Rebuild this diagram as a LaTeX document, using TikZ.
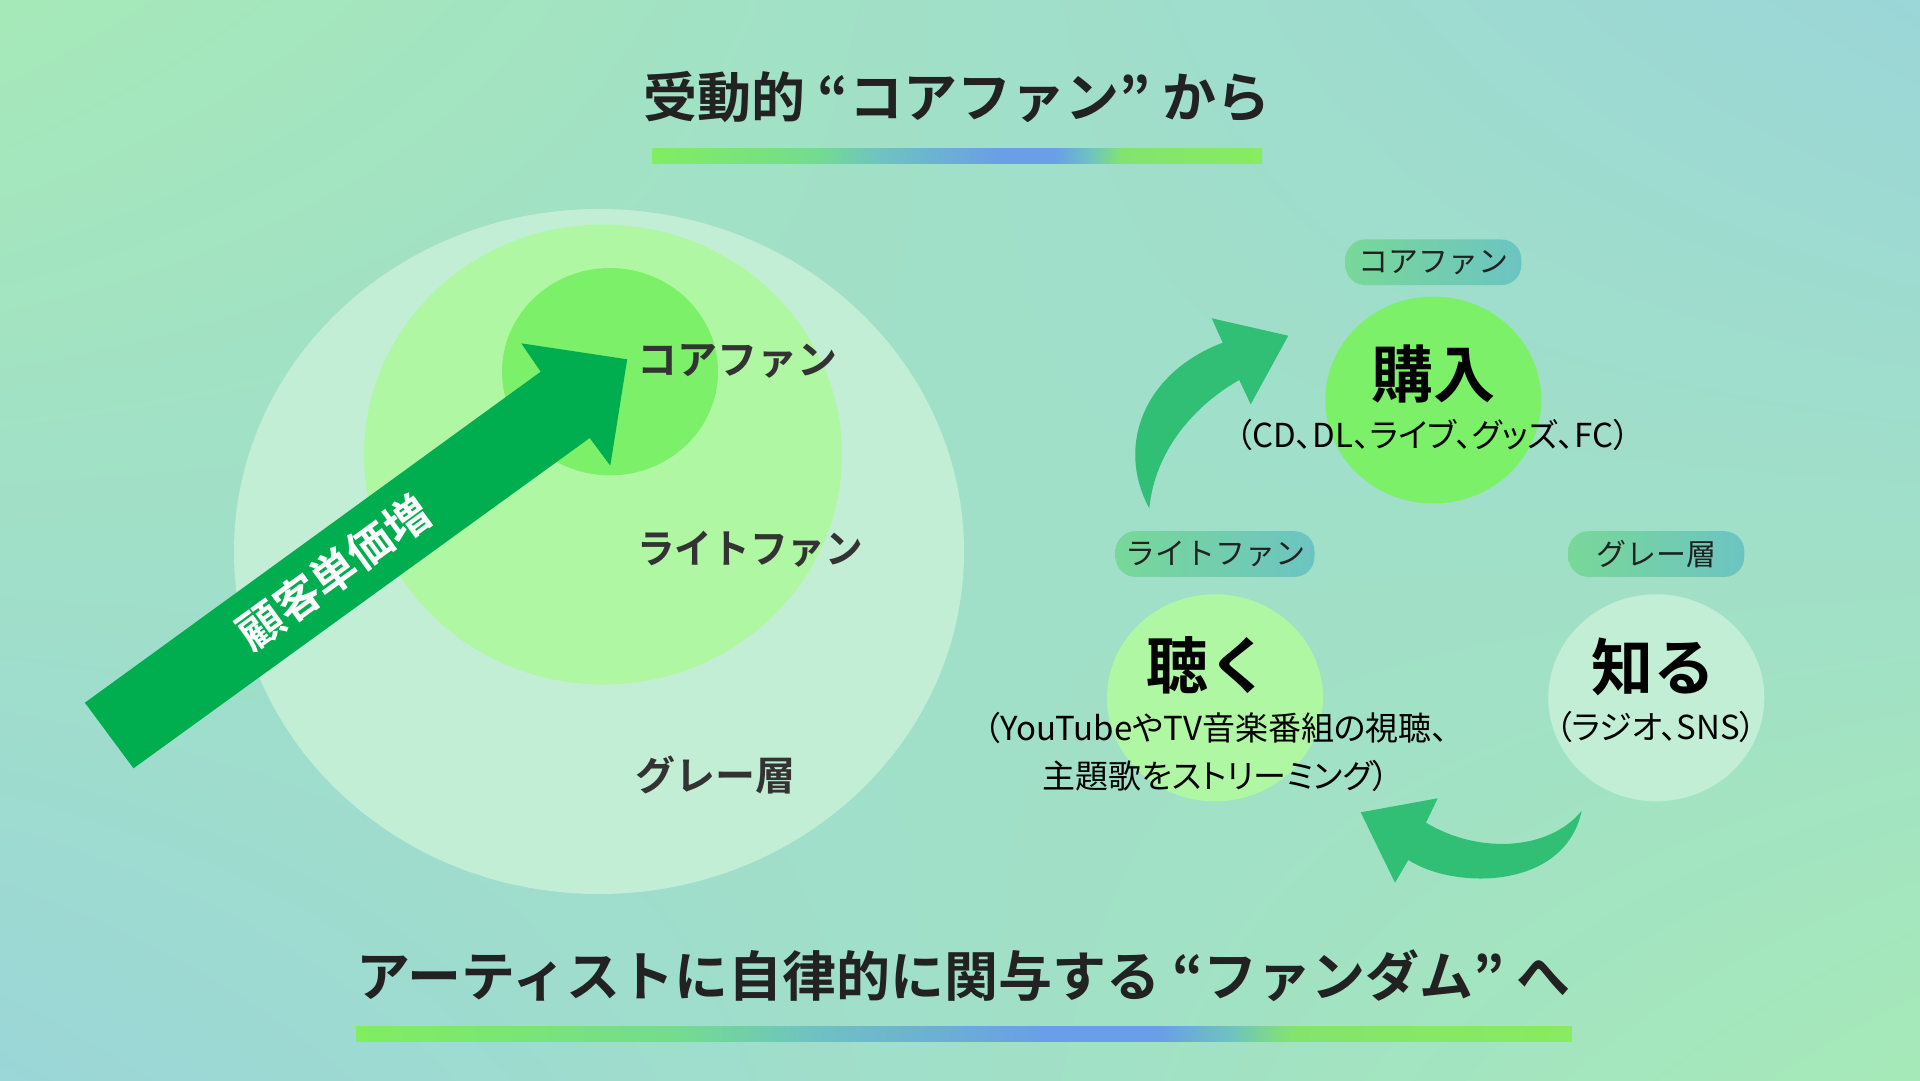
\documentclass[tikz,border=0pt]{standalone}
\usepackage{fontspec}
\setmainfont{Noto Sans CJK JP}[BoldFont={Noto Sans CJK JP Bold}]
\newfontfamily\detailfont{Noto Sans CJK JP}[RawFeature=+palt]
\usetikzlibrary{positioning,shapes.geometric,shadings}

\definecolor{bggreen}{HTML}{A6E9B8}
\definecolor{bgteal}{HTML}{9BD6D8}
\definecolor{graylayer}{HTML}{C3EED6}
\definecolor{lightfan}{HTML}{B0F7A4}
\definecolor{corefan}{HTML}{7DF06A}
\definecolor{bigarrow}{HTML}{00AE4F}
\definecolor{cyclearrow}{HTML}{31BF76}
\definecolor{tagleft}{HTML}{78D898}
\definecolor{tagright}{HTML}{6CC4C2}
\definecolor{titletext}{HTML}{222222}
\definecolor{labeltext}{HTML}{333333}
\definecolor{barA}{HTML}{80EE60}
\definecolor{barB}{HTML}{72DC90}
\definecolor{barC}{HTML}{6EC4C0}
\definecolor{barD}{HTML}{6A9EE6}
\definecolor{barE}{HTML}{82E46E}
\definecolor{barF}{HTML}{88EC60}

\pgfdeclarehorizontalshading{barshade}{100bp}{color(0bp)=(barA); color(25bp)=(barA);
  color(38.5bp)=(barB); color(43.5bp)=(barC); color(53.5bp)=(barD); color(58bp)=(barD);
  color(61bp)=(barC); color(63.5bp)=(barE); color(75bp)=(barF); color(100bp)=(barF)}

\begin{document}
\begin{tikzpicture}[x=1pt, y=-1pt,
  title/.style={font=\bfseries\fontsize{54}{64}\selectfont, text=titletext},
  bar/.style={shade, shading=barshade, inner sep=0pt, minimum height=15pt},
  layer/.style={ellipse, inner sep=0pt},
  layername/.style={anchor=west, font=\bfseries\fontsize{40}{48}\selectfont, text=labeltext},
  tag/.style={rounded corners=20pt, left color=tagleft, right color=tagright,
    inner sep=0pt, minimum height=45.7pt, font=\fontsize{30}{36}\selectfont, text=titletext},
  stage/.style={ellipse, inner sep=0pt, minimum width=216pt, minimum height=207pt},
  action/.style={font=\bfseries\fontsize{62}{72}\selectfont, text=black},
  detail/.style={align=center, font=\detailfont\fontsize{33}{48}\selectfont, text=black}
  ]
  \useasboundingbox (0,0) rectangle (1920,1080);
  \shade[upper left=bggreen, upper right=bgteal, lower left=bgteal, lower right=bggreen]
  (0,0) rectangle (1920,1080);

  % titles
  \node[title] (from) at (957,97) {受動的 “コアファン” から};
  \node[bar, minimum width=609.5pt] (frombar) at (957.25,155.5) {};
  \node[title] (to) at (963.5,976) {アーティストに自律的に関与する “ファンダム” へ};
  \node[bar, minimum width=1216pt] (tobar) at (964,1033.5) {};

  % layers
  \node[layer, fill=graylayer, minimum width=730pt, minimum height=685pt] (gray) at (599,551.5) {};
  \node[layer, fill=lightfan, minimum width=478pt, minimum height=460pt] (light) at (603,454.5) {};
  \node[layer, fill=corefan, minimum width=216pt, minimum height=207.4pt] (core) at (610,371.7) {};
  \node[layername] (corename) at (634,361) {コアファン};
  \node[layername, xscale=0.94] (lightname) at (634,549) {ライトファン};
  \node[layername] (grayname) at (632,775) {グレー層};

  \fill[bigarrow] (84.9,702.7) -- (540.7,371.7) -- (521.2,343.3) -- (627.2,359.3)
  -- (610.3,465.7) -- (589.7,438) -- (133.5,768.3) -- cycle;
  \node[rotate=36, text=white, font=\bfseries\fontsize{45}{52}\selectfont] (gain) at (333.6,572) {顧客単価増};

  % cycle
  \node[stage, fill=corefan] (buy) at (1433.3,400) {};
  \node[stage, fill=lightfan] (listen) at (1215,697.8) {};
  \node[stage, fill=graylayer] (know) at (1656.3,697.8) {};

  \node[tag, minimum width=176pt, above=11pt of buy] (buytag) {コアファン};
  \node[tag, minimum width=199pt, above=17pt of listen] (listentag) {ライトファン};
  \node[tag, minimum width=176pt, above=17pt of know] (knowtag) {グレー層};

  \node[action] (buyword) at (1433,374) {購入};
  \node[action] (listenword) at (1208,665.5) {聴く};
  \node[action] (knowword) at (1653.5,667) {知る};

  \node[detail] (buysub) at (1433,434.5) {（CD、DL、ライブ、グッズ、FC）};
  \node[detail] (listensub) at (1216,752) {（YouTubeやTV音楽番組の視聴、\\主題歌をストリーミング）};
  \node[detail] (knowsub) at (1656,727) {（ラジオ、SNS）};

  \fill[cyclearrow] (1149.3,508.3) .. controls (1115,445) and (1145,372) .. (1222.7,342.7)
  -- (1211.7,318.3) -- (1288.3,335.7) -- (1250.7,404.3) -- (1239.3,380)
  .. controls (1195,405) and (1155,450) .. (1149.3,508.3) -- cycle;
  \fill[cyclearrow] (1581.7,810.7) .. controls (1550,850) and (1480,855) .. (1426,822.7)
  -- (1437.7,798.3) -- (1360.7,812.3) -- (1395,882.7) -- (1408.3,860)
  .. controls (1455,890) and (1565,890) .. (1581.7,810.7) -- cycle;
\end{tikzpicture}
\end{document}
